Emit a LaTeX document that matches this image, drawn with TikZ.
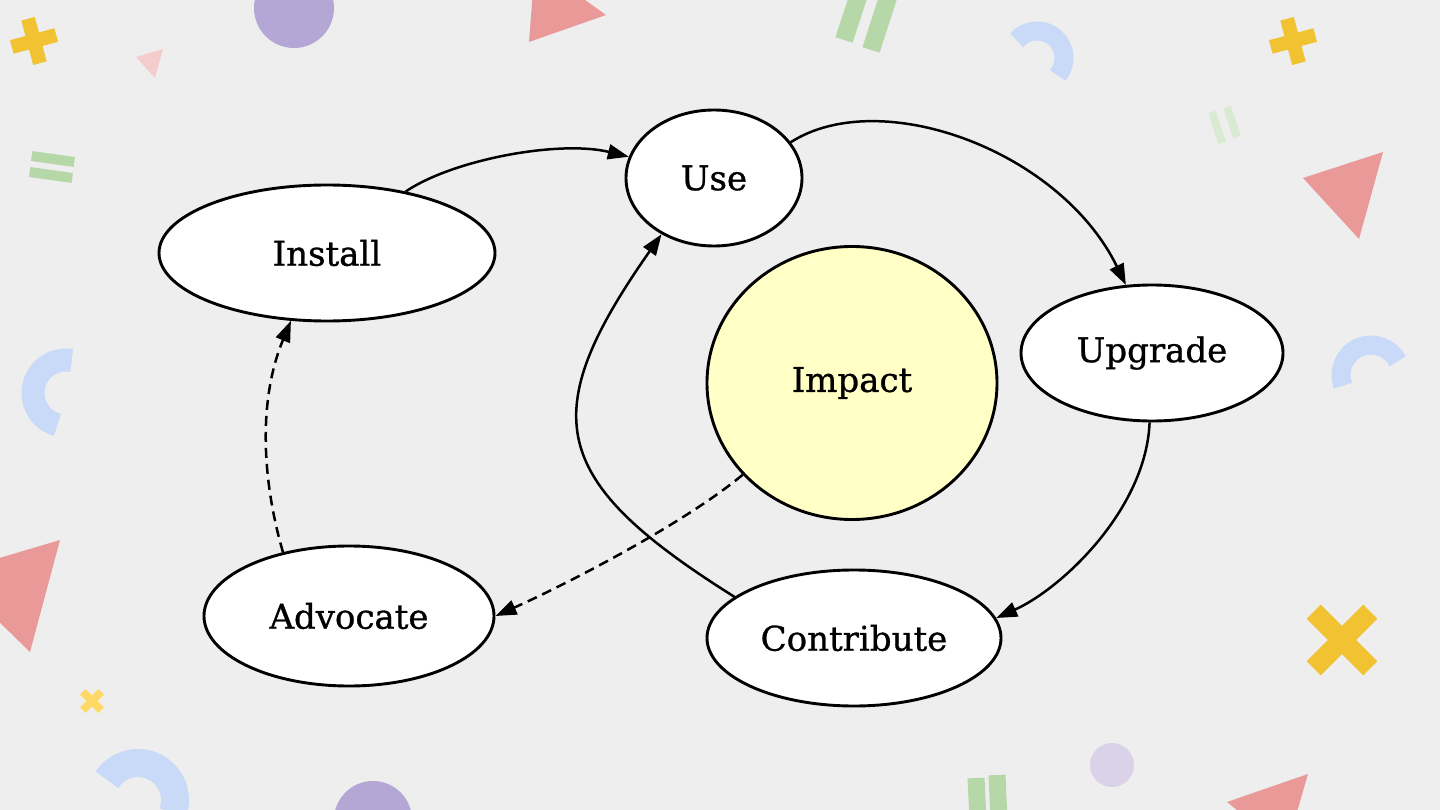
\documentclass[tikz,border=0pt]{standalone}
\usepackage{fontspec}
\setmainfont{DejaVu Serif}
\newfontfamily\nodefont{DejaVu Serif}[FakeBold=0.9]
\usetikzlibrary{shapes.geometric,arrows.meta}
\definecolor{bg}{HTML}{EEEEEE}
\definecolor{yel}{HTML}{F1C232}
\definecolor{yelL}{HTML}{FFD966}
\definecolor{purp}{HTML}{B4A7D6}
\definecolor{purpL}{HTML}{D9D2E9}
\definecolor{redd}{HTML}{EA9999}
\definecolor{pinkL}{HTML}{F4CCCC}
\definecolor{grn}{HTML}{B6D7A8}
\definecolor{grnL}{HTML}{D9EAD3}
\definecolor{blu}{HTML}{C9DAF8}
\definecolor{impactfill}{HTML}{FFFFC6}
\tikzset{
  bub/.style={ellipse, draw=black, line width=2.9pt, fill=white, inner sep=0pt,
    font=\nodefont\fontsize{34}{40}\selectfont, text=black},
  edge/.style={line width=2.5pt, draw=black, -{Triangle[length=21pt,width=15pt]}},
  dedge/.style={edge, dash pattern=on 10pt off 6pt},
}
\begin{document}
\begin{tikzpicture}[x=1pt,y=1pt]
\useasboundingbox (0,0) rectangle (1440,-810);
\fill[bg] (0,0) rectangle (1440,-810);
\begin{scope}
\clip (0,0) rectangle (1440,-810);
% plus signs
\begin{scope}[shift={(34,-41)},rotate=15]
  \fill[yel] (-23,-7) rectangle (23,7);
  \fill[yel] (-7,-23) rectangle (7,23);
\end{scope}
\begin{scope}[shift={(1293,-41)},rotate=15]
  \fill[yel] (-23,-7) rectangle (23,7);
  \fill[yel] (-7,-23) rectangle (7,23);
\end{scope}
% x marks
\begin{scope}[shift={(1342,-640)}]
  \fill[yel,rotate=45] (-40,-10) rectangle (40,10);
  \fill[yel,rotate=-45] (-40,-10) rectangle (40,10);
\end{scope}
\begin{scope}[shift={(92,-701)}]
  \fill[yelL,rotate=45] (-13,-4) rectangle (13,4);
  \fill[yelL,rotate=-45] (-13,-4) rectangle (13,4);
\end{scope}
% circles
\fill[purp] (294,-8) circle[radius=40];
\fill[purp] (373,-820) circle[radius=39];
\fill[purpL] (1112,-765) ellipse[x radius=22, y radius=22];
% triangles
\fill[redd] (529,-42) -- (606,-15) -- (535,36) -- cycle;
\fill[pinkL] (136,-57) -- (163,-49) -- (155,-78) -- cycle;
\fill[redd] (1303,-178) -- (1383,-152) -- (1359,-239) -- cycle;
\fill[redd] (60,-540) -- (30,-652) -- (-51,-573) -- cycle;
\fill[redd] (1227,-802) -- (1308,-774) -- (1286,-850) -- cycle;
% equals / bars
\begin{scope}[shift={(53,-159)},rotate=-8]
  \fill[grn] (-21.5,-5) rectangle (21.5,5);
\end{scope}
\begin{scope}[shift={(51,-175)},rotate=-8]
  \fill[grn] (-21.5,-5) rectangle (21.5,5);
\end{scope}
\draw[grn, line width=18pt] (844,-40) -- (862,15);
\draw[grn, line width=18pt] (871,-50) -- (892,15);
\draw[grnL, line width=8pt] (1212,-112) -- (1222,-143);
\draw[grnL, line width=8pt] (1227,-107) -- (1237,-137);
\draw[grn, line width=17pt] (976,-778) -- (978,-820);
\draw[grn, line width=17pt] (997,-775) -- (999,-820);
% rings
\draw[blu, line width=19pt] (1037,-58) ++(139:27) arc[start angle=139, end angle=-40, radius=27];
\draw[blu, line width=19pt] (1371,-375) ++(201:30) arc[start angle=201, end angle=27, radius=30];
\draw[blu, line width=23pt] (66,-393) ++(80:33) arc[start angle=80, end angle=255, radius=33];
\draw[blu, line width=28pt] (138,-800) ++(147:37) arc[start angle=147, end angle=-20, radius=37];
\end{scope}

% nodes
\node[bub, minimum width=336pt, minimum height=136pt] (install) at (327,-253) {Install};
\node[bub, minimum width=176pt, minimum height=136pt] (use) at (714,-178) {Use};
\node[bub, fill=impactfill, minimum width=290pt, minimum height=273pt] (impact) at (852,-383) {Impact};
\node[bub, minimum width=262pt, minimum height=136pt] (upgrade) at (1152,-353) {Upgrade};
\node[bub, minimum width=294pt, minimum height=136pt] (contribute) at (854,-638) {Contribute};
\node[bub, minimum width=290pt, minimum height=140pt] (advocate) at (349,-616) {Advocate};

% connectors
\draw[edge] (install.38) .. controls (454,-159) and (560,-140) .. (use.166);
\draw[edge] (use.25) .. controls (880,-85) and (1060,-150) .. (upgrade.111);
\draw[edge] (upgrade.268) .. controls (1146,-510) and (1061,-589) .. (contribute.8);
\draw[edge] (contribute.161) .. controls (548,-480) and (535,-415) .. (use.227);
\draw[dedge] (impact.220) .. controls (685,-523) and (567,-584) .. (advocate.0);
\draw[dedge] (advocate.136) .. controls (262,-480) and (258,-400) .. (install.242);
\end{tikzpicture}
\end{document}
